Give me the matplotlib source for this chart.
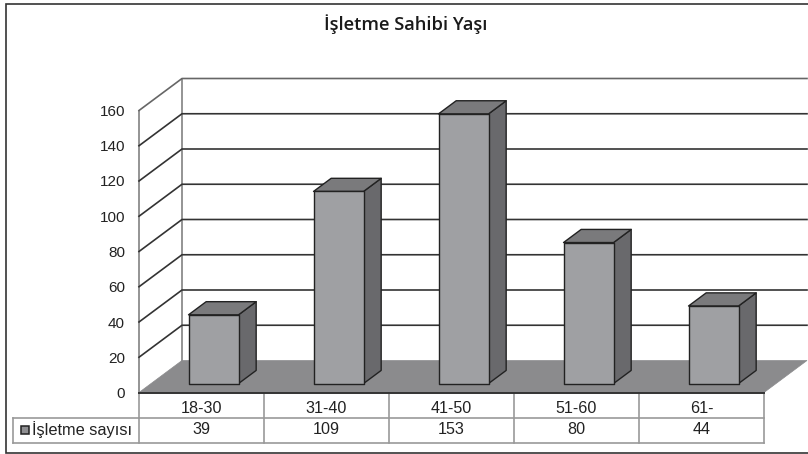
import matplotlib
matplotlib.use('Agg')
from matplotlib import pyplot as plt
from matplotlib.patches import Polygon, Rectangle

categories = ['18-30', '31-40', '41-50', '51-60', '61-']
values = [39, 109, 153, 80, 44]
yticks = [0, 20, 40, 60, 80, 100, 120, 140, 160]
series_name = 'İşletme sayısı'
title = 'İşletme Sahibi Yaşı'

W, H = 808, 454
left, right, y0, y160 = 139, 764, 392.5, 110.5
# depth of the 3d box, in pixels
depth_x, depth_y = 43, 32
bar_w = 0.4
z_front, z_back = 0.28, 0.69

fig = plt.figure(figsize=(W / 100, H / 100), dpi=100)
# background axes in pixels: frame and table lines
bg = fig.add_axes([0, 0, 1, 1])
bg.set_xlim(0, W)
bg.set_ylim(H, 0)
bg.axis('off')
# right edge of the frame is cut off in the picture
bg.add_patch(Rectangle((6, 3.5), 820, 449, fc='white', ec='#333333', lw=1.2))

ax = fig.add_axes([left / W, 1 - y0 / H, (right - left) / W, (y0 - y160) / H])
ax.set_xlim(0, len(categories))
ax.set_ylim(0, yticks[-1])
ax.patch.set_alpha(0)
for s in ax.spines.values():
    s.set_visible(False)

ux = (right - left) / len(categories)
uy = (y0 - y160) / yticks[-1]
dx = depth_x / ux
dy = depth_y / uy


def pt(x, v, z):
    return (x + z * dx, v + z * dy)


n = len(categories)
# floor
ax.add_patch(Polygon([pt(0, 0, 0), pt(n, 0, 0), pt(n, 0, 1), pt(0, 0, 1)],
                     fc='#8b8b8d', ec='#8b8b8d', lw=0.5, clip_on=False, zorder=2))
ax.plot(*zip(pt(0, 0, 0), pt(n, 0, 0)), color='#333333', lw=1.4, clip_on=False, zorder=3)

# walls and grid
ax.plot(*zip(pt(0, 0, 0), pt(0, yticks[-1], 0)), color='#777777', lw=1.1, clip_on=False, zorder=1)
ax.plot(*zip(pt(0, 0, 1), pt(0, yticks[-1], 1)), color='#777777', lw=1.1, clip_on=False, zorder=1)
for t in yticks[1:]:
    c = '#666666' if t == yticks[-1] else '#333333'
    ax.plot(*zip(pt(0, t, 0), pt(0, t, 1), pt(n, t, 1)), color=c, lw=1.2, clip_on=False, zorder=1)

# bars
for i, v in enumerate(values):
    x1 = i + 0.5 - bar_w / 2
    x2 = i + 0.5 + bar_w / 2
    ax.add_patch(Polygon([pt(x2, 0, z_front), pt(x2, 0, z_back), pt(x2, v, z_back), pt(x2, v, z_front)],
                         fc='#69696c', ec='#222222', lw=1.0, joinstyle='round', clip_on=False, zorder=4))
    ax.add_patch(Polygon([pt(x1, v, z_front), pt(x2, v, z_front), pt(x2, v, z_back), pt(x1, v, z_back)],
                         fc='#7a7a7c', ec='#222222', lw=1.0, joinstyle='round', clip_on=False, zorder=4))
    ax.add_patch(Polygon([pt(x1, 0, z_front), pt(x2, 0, z_front), pt(x2, v, z_front), pt(x1, v, z_front)],
                         fc='#9fa0a3', ec='#222222', lw=1.0, joinstyle='round', clip_on=False, zorder=5))

ax.set_yticks(yticks)
ax.set_yticklabels([str(t) for t in yticks], fontsize=11, family='Liberation Sans', color='#222222')
ax.set_xticks([i + 0.5 for i in range(n)])
ax.set_xticklabels(categories, fontsize=11.6, family='Liberation Sans', color='#222222')
ax.tick_params(axis='y', length=0, pad=10)
ax.tick_params(axis='x', length=0, pad=6)

# data table under the axis
row1, row2, row3 = 392.5, 418, 442.5
grid = '#999999'
bg.plot([left, right], [row2, row2], color=grid, lw=1.2)
bg.plot([13, right], [row3, row3], color=grid, lw=1.2)
bg.plot([13, left], [row2, row2], color=grid, lw=1.2)
bg.plot([13, 13], [row2, row3], color=grid, lw=1.2)
for i in range(n + 1):
    bg.plot([left + i * ux] * 2, [row1, row3], color=grid, lw=1.2)
bg.add_patch(Rectangle((21, 425.5), 7.5, 8, fc='#8f8f92', ec='#222222', lw=1.1))
bg.text(32, 429.5, series_name, fontsize=11.8, family='Liberation Sans', va='center', color='#222222')
for i, v in enumerate(values):
    bg.text(left + (i + 0.5) * ux, 429.5, str(v), fontsize=11.6, family='Liberation Sans',
            ha='center', va='center', color='#222222')

bg.text(406, 24, title, fontsize=13.2, family='Open Sans', fontweight='semibold',
        ha='center', va='center', color='#1a1a1a')

fig.savefig('out.png', dpi=100)
